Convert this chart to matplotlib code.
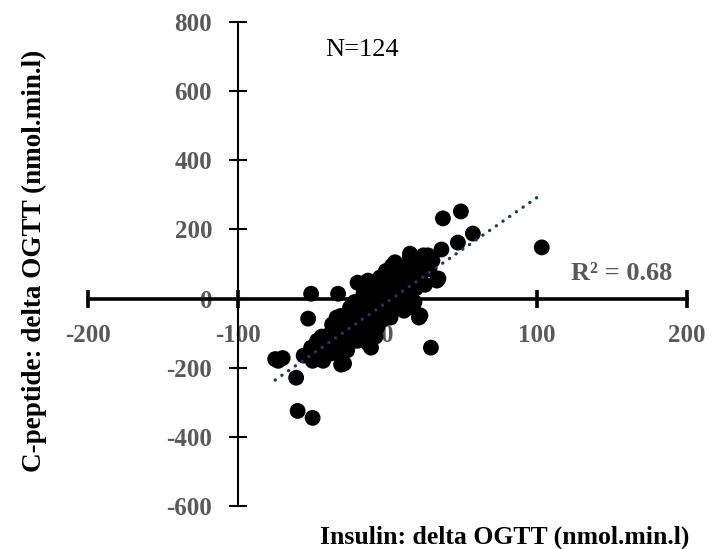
import matplotlib
matplotlib.use('Agg')
import matplotlib.pyplot as plt
import numpy as np

plt.rcParams['font.family'] = ['Liberation Serif', 'DejaVu Serif']
plt.rcParams['axes.unicode_minus'] = False

# insulin delta (x) vs c-peptide delta (y)
insulin = [103, 49, 37, 57, 47, 36, 24, 15, 29, 21,
           -51, -33, -53, -34, -20, -73, -70, -61, -60, -50,
           -31, -56, -50, -75, -45, -51, -47, -38, -38, -43,
           -29, -29, -20, -20, -11, -25, -16, -16, -7, -3,
           2, 7, 11, 15, 20, 27, 33, 15, 11, 2,
           -7, -11, -5, 7, -29, 27, 22, 34, 22, 17,
           -5, -13, -18, -40, -35, -33, -30, -27, -25, -23,
           -22, -20, -18, -15, -14, -12, -10, -9, -8, -6,
           -4, -3, 0, 0, 1, 3, 4, 5, 6, 8,
           9, 10, 12, 13, 14, 16, 17, 18, 19, 21,
           23, 25, 26, 28, 30, -44, -42, -36, -33, -27,
           -24, -16, -13, -37, -31, -26, -22, -18, -12, -10,
           -1, 3, 5, -48]
cpeptide = [148, 252, 232, 188, 162, 142, 125, 130, -142, -55,
            14, 14, -58, -55, 46, -180, -172, -229, -325, -345,
            -191, -165, -180, -175, -150, -142, -122, -101, -159, -180,
            -84, -142, -64, -122, -142, -26, -14, 14, 32, 61,
            32, 72, 90, 119, 81, 119, 52, -6, -35, -55,
            -84, -43, -14, 14, -188, 125, 105, 58, -49, -26,
            61, 52, 43, -130, -115, -95, -110, -70, -90, -50,
            -100, -30, -80, -60, -100, -20, -70, 0, -110, -40,
            10, -60, 20, -5, 45, -30, 50, -10, 30, -20,
            55, 5, 40, 70, 20, 95, 55, -10, 30, 100,
            75, 40, 95, 85, 110, -110, -140, -135, -160, -150,
            -125, -115, -130, -75, -50, -40, -10, -5, 25, 40,
            80, 95, 105, -135]

# linear trendline (R2 = 0.68)
trend_slope = 3.02
trend_icept = -9.0

xticks = [-200, -100, 0, 100, 200]
yticks = [-600, -400, -200, 0, 200, 400, 600, 800]

grey = '#595959'

fig = plt.figure(figsize=(7.15, 5.49), dpi=100)
ax = fig.add_axes([88/715, 43/549, 599/715, 484/549])

ax.scatter(insulin, cpeptide, s=130, c='black', edgecolors='none', zorder=3)

tx = np.array([min(insulin), max(insulin)])
ax.plot(tx, trend_slope*tx + trend_icept, color='#1f3864', lw=2.4,
        linestyle=(0, (0.05, 2.4)), dash_capstyle='round', zorder=4)

ax.set_xlim(-200, 200)
ax.set_ylim(-600, 800)
ax.set_xticks(xticks)
ax.set_yticks(yticks)

ax.spines['top'].set_visible(False)
ax.spines['right'].set_visible(False)
ax.spines['bottom'].set_position(('data', 0))
ax.spines['left'].set_position(('data', -100))
ax.spines['bottom'].set_linewidth(2.6)
ax.spines['left'].set_linewidth(1.5)

ax.tick_params(axis='x', direction='inout', length=13, width=2.6, pad=12,
               labelsize=18, labelcolor=grey)
ax.tick_params(axis='y', direction='inout', length=13, width=1.5, pad=12,
               labelsize=18, labelcolor=grey)
for lab in ax.get_xticklabels() + ax.get_yticklabels():
    lab.set_fontweight('bold')

ax.text(362/715, 1 - 50/549, 'N=124', transform=fig.transFigure,
        fontsize=19, ha='center', va='center', color='black')
ax.text(622/715, 1 - 273/549, 'R² = 0.68', transform=fig.transFigure,
        fontsize=19, ha='center', va='center', color=grey, fontweight='bold')

fig.text(505/715, 1 - 537/549, 'Insulin: delta OGTT (nmol.min.l)',
         fontsize=18.5, fontweight='bold', ha='center', va='center')
fig.text(34/715, 1 - 261/549, 'C-peptide: delta OGTT (nmol.min.l)',
         fontsize=19.5, fontweight='bold', ha='center', va='center', rotation=90)

fig.savefig('out.png', dpi=100)
